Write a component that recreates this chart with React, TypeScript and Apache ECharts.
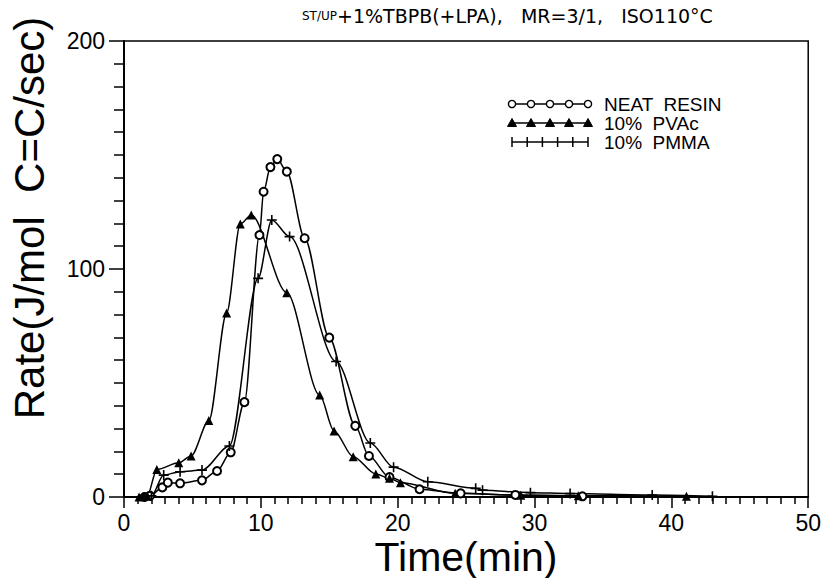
import React, { useEffect, useRef } from "react";
import * as echarts from "echarts";

const FONT = "Liberation Sans, Arial, sans-serif";
const WIDE_FONT = "DejaVu Sans, Verdana, sans-serif";

const xTicks = [0, 10, 20, 30, 40, 50];
const yTicks = [0, 100, 200];

const neatTime = [1.5, 1.9, 2.8, 3.2, 4.1, 5.7, 6.8, 7.8, 8.8, 9.9, 10.2, 10.7, 11.2, 11.9, 13.2, 15.0, 16.9, 17.9, 19.4, 21.6, 24.6, 28.6, 33.5];
const neatRate = [0, 0.5, 4.2, 6.3, 6.0, 7.3, 11.4, 19.6, 41.6, 114.9, 133.9, 144.7, 148.2, 142.7, 113.5, 69.9, 31.2, 18.0, 8.7, 3.4, 1.6, 0.9, 0.3];

const pvacTime = [1.1, 1.4, 1.7, 2.4, 4.0, 4.9, 6.2, 7.5, 8.5, 9.3, 11.9, 14.3, 15.35, 16.75, 18.4, 19.4, 20.2, 24.2, 29.0, 33.2, 41.1];
const pvacRate = [0, 0.3, 0.5, 12.1, 15.0, 18.0, 33.5, 80.7, 119.7, 123.7, 89.6, 44.7, 29.0, 17.7, 10.1, 8.2, 6.3, 1.6, 0.8, 0.6, 0.3];

const pmmaTime = [1.5, 2.0, 2.9, 4.1, 5.7, 7.7, 9.8, 10.8, 12.1, 15.5, 18.0, 19.7, 22.2, 25.7, 26.2, 29.7, 32.6, 38.6, 43.0];
const pmmaRate = [0, 0.5, 9.6, 11.1, 11.8, 22.4, 95.9, 121.5, 114.2, 59.4, 23.7, 13.1, 6.7, 3.8, 3.0, 1.9, 1.5, 0.9, 0.3];

const legendLabels = ["NEAT  RESIN", "10%  PVAc", "10%  PMMA"];
const legendMarkers = ["circle", "triangle", "plus"];

const PLUS_PATH = "path://M4.2,0 H5.8 V4.2 H10 V5.8 H5.8 V10 H4.2 V5.8 H0 V4.2 H4.2 Z";

function zip(t: number[], v: number[]) {
  return t.map((x, i) => [x, v[i]]);
}

function legendGraphic() {
  const els: any[] = [];
  const x0 = 512;
  const x1 = 588;
  const rows = [104, 123, 142];
  legendLabels.forEach((label, i) => {
    const y = rows[i];
    const kind = legendMarkers[i];
    els.push({
      type: "line",
      shape: { x1: x0, y1: y, x2: x1, y2: y },
      style: { stroke: "#000", lineWidth: 1.5 },
    });
    const n = kind === "plus" ? 6 : 5;
    for (let k = 0; k < n; k++) {
      const cx = x0 + ((x1 - x0) * k) / (n - 1);
      if (kind === "circle") {
        els.push({ type: "circle", shape: { cx, cy: y, r: 3.6 }, style: { fill: "#fff", stroke: "#000", lineWidth: 1.4 } });
      } else if (kind === "triangle") {
        els.push({
          type: "polygon",
          shape: { points: [[cx, y - 4.5], [cx - 4.5, y + 3.5], [cx + 4.5, y + 3.5]] },
          style: { fill: "#000", stroke: "#000", lineWidth: 1 },
        });
      } else {
        els.push({ type: "line", shape: { x1: cx, y1: y - 5, x2: cx, y2: y + 5 }, style: { stroke: "#000", lineWidth: 1.5 } });
      }
    }
    els.push({
      type: "text",
      x: 604,
      y: y,
      style: { text: label, fill: "#000", font: `19px ${FONT}`, textVerticalAlign: "middle", textAlign: "left" },
    });
  });
  return els;
}

export default function App() {
  const ref = useRef<HTMLDivElement>(null);
  useEffect(() => {
    if (!ref.current) return;
    const chart = echarts.init(ref.current, undefined, { renderer: "svg" });
    const lineStyle = { color: "#000", width: 1.5 };
    const baseSeries = {
      type: "line",
      smooth: 0.3,
      smoothMonotone: "x",
      lineStyle,
      showAllSymbol: true,
      z: 3,
    };
    const option: any = {
      animation: false,
      backgroundColor: "#fff",
      grid: {
        left: 124,
        top: 41,
        right: 14,
        bottom: 81,
        show: true,
        borderColor: "#000",
        borderWidth: 1.5,
        backgroundColor: "transparent",
      },
      xAxis: {
        type: "value",
        min: xTicks[0],
        max: xTicks[xTicks.length - 1],
        interval: 10,
        axisLine: { onZero: false, lineStyle: { color: "#000", width: 2 } },
        axisTick: { inside: false, length: 11, lineStyle: { color: "#000", width: 1.5 } },
        minorTick: { show: true, splitNumber: 10, length: 7, lineStyle: { color: "#000", width: 1.5 } },
        axisLabel: { margin: 14, fontSize: 23, color: "#000", fontFamily: FONT },
        splitLine: { show: false },
        minorSplitLine: { show: false },
      },
      yAxis: {
        type: "value",
        min: yTicks[0],
        max: yTicks[yTicks.length - 1],
        interval: 100,
        axisLine: { onZero: false, lineStyle: { color: "#000", width: 2 } },
        axisTick: { inside: false, length: 15, lineStyle: { color: "#000", width: 1.5 } },
        minorTick: { show: true, splitNumber: 10, length: 10, lineStyle: { color: "#000", width: 1.5 } },
        axisLabel: { margin: 19, fontSize: 23, color: "#000", fontFamily: FONT },
        splitLine: { show: false },
        minorSplitLine: { show: false },
      },
      series: [
        {
          ...baseSeries,
          name: "NEAT RESIN",
          data: zip(neatTime, neatRate),
          symbol: "emptyCircle",
          symbolSize: 8,
          itemStyle: { color: "#000", borderColor: "#000", borderWidth: 1.4 },
        },
        {
          ...baseSeries,
          name: "10% PVAc",
          data: zip(pvacTime, pvacRate),
          symbol: "triangle",
          symbolSize: 9,
          itemStyle: { color: "#000" },
        },
        {
          ...baseSeries,
          name: "10% PMMA",
          data: zip(pmmaTime, pmmaRate),
          symbol: PLUS_PATH,
          symbolSize: 10,
          itemStyle: { color: "#000" },
        },
      ],
      graphic: [
        {
          type: "text",
          x: 302,
          y: 16,
          style: {
            text: "{s|ST/UP}+1%TBPB(+LPA),   MR=3/1,   ISO110°C",
            fill: "#000",
            font: `19px ${WIDE_FONT}`,
            textVerticalAlign: "middle",
            rich: { s: { fontSize: 12, fontFamily: WIDE_FONT, fill: "#000" } },
          },
        },
        {
          type: "text",
          x: 466,
          y: 577,
          style: {
            text: "Time(min)",
            fill: "#000",
            font: `41px ${FONT}`,
            textAlign: "center",
            textVerticalAlign: "bottom",
          },
        },
        {
          type: "text",
          x: 29,
          y: 218,
          rotation: Math.PI / 2,
          style: {
            text: "Rate(J/mol  C=C/sec)",
            fill: "#000",
            font: `42px ${FONT}`,
            textAlign: "center",
            textVerticalAlign: "middle",
          },
        },
        ...legendGraphic(),
      ],
    };
    chart.setOption(option);
    return () => chart.dispose();
  }, []);
  return <div ref={ref} style={{ width: 824, height: 578, position: "absolute", left: 0, top: 0 }} />;
}
